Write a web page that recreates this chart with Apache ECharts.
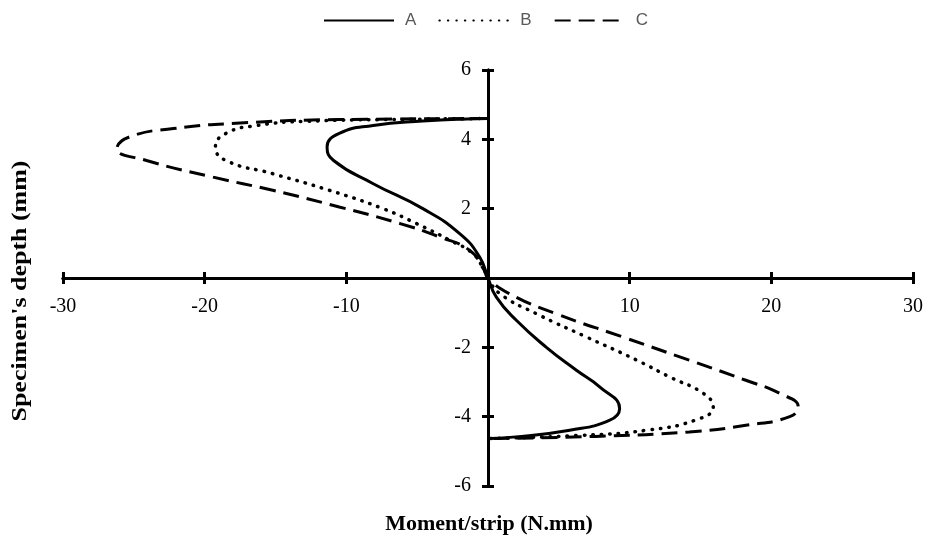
<!DOCTYPE html>
<html>
<head>
<meta charset="utf-8">
<script src="https://cdn.jsdelivr.net/npm/echarts@6/dist/echarts.min.js"></script>
<style>html,body{margin:0;padding:0;background:#fff}#c{width:928px;height:540px}</style>
</head>
<body>
<div id="c"></div>
<script>
const seriesNames = ['A', 'B', 'C'];
const xTicks = [-30, -20, -10, 0, 10, 20, 30];
const yTicks = [-6, -4, -2, 0, 2, 4, 6];
const xTitle = 'Moment/strip (N.mm)';
const yTitle = "Specimen's depth (mm)";

const seriesA = [
  [0, 4.6], [-1.5, 4.59], [-4.6, 4.53], [-8.1, 4.4], [-10.5, 4.17], [-11.36, 3.78],
  [-10.9, 3.39], [-8.1, 2.72], [-4.6, 2.0], [-2.0, 1.28], [-0.58, 0.6], [0, 0],
  [0.59, -0.55], [2.0, -1.22], [4.12, -2.0], [6.24, -2.66], [7.88, -3.14], [9.29, -3.77],
  [8.6, -4.1], [5.77, -4.39], [1.76, -4.59], [0, -4.63]
];
const seriesB = [
  [0, 4.6], [-5, 4.58], [-12.8, 4.52], [-16.3, 4.4], [-18.5, 4.17], [-19.24, 3.78],
  [-18.5, 3.39], [-15.2, 3.01], [-11.2, 2.53], [-7.4, 2.0], [-5.05, 1.57], [-2.7, 1.09],
  [-1.06, 0.7], [-0.3, 0.25], [0, 0],
  [0.83, -0.45], [3.42, -1.03], [6.94, -1.7], [10.5, -2.37], [12.8, -2.85], [15.2, -3.33],
  [15.9, -3.72], [14.7, -4.09], [11.2, -4.39], [6.5, -4.54], [0, -4.63]
];
const seriesC = [
  [0, 4.6], [-10.5, 4.57], [-17.5, 4.47], [-22.2, 4.31], [-25.3, 4.07], [-26.2, 3.73],
  [-24.1, 3.39], [-19.4, 2.91], [-15.2, 2.53], [-10.5, 2.05], [-6.2, 1.57], [-3.4, 1.18],
  [-1.3, 0.8], [-0.3, 0.25], [0, 0],
  [1.5, -0.45], [4.8, -1.03], [9.5, -1.7], [14.2, -2.37], [18.2, -2.95], [20.6, -3.33],
  [21.9, -3.72], [21.3, -4.0], [18.2, -4.25], [14.2, -4.44], [7.6, -4.57], [0, -4.63]
];

const W = 928, H = 540;
const G = {left: 63, right: 15, top: 70, bottom: 54};
const xMin = xTicks[0], xMax = xTicks[xTicks.length - 1];
const yMin = yTicks[0], yMax = yTicks[yTicks.length - 1];
const gridW = W - G.left - G.right, gridH = H - G.top - G.bottom;
// shift label-bearing axes from the grid edge to the zero line
const xOffset = -gridH * (0 - yMin) / (yMax - yMin);
const yOffset = -gridW * (0 - xMin) / (xMax - xMin);

const chart = echarts.init(document.getElementById('c'), null, {renderer: 'canvas'});
const serif = '"Liberation Serif", "Times New Roman", serif';
const fmt = v => (v === 0 ? '' : String(v));
const lineSt = {color: '#000', width: 3};

function xAx(main) {
  return {
    type: 'value', min: xMin, max: xMax, interval: 10, position: 'bottom',
    offset: main ? xOffset : 0,
    axisLine: {show: true, onZero: !main, onZeroAxisIndex: main ? undefined : 1, lineStyle: lineSt},
    axisTick: {show: true, inside: !main, length: 6, lineStyle: lineSt},
    axisLabel: {show: main, formatter: fmt, margin: 19, color: '#000', fontFamily: serif, fontSize: 20},
    splitLine: {show: false}
  };
}
function yAx(main) {
  return {
    type: 'value', min: yMin, max: yMax, interval: 2, position: 'left',
    offset: main ? yOffset : 0,
    axisLine: {show: true, onZero: !main, onZeroAxisIndex: main ? undefined : 1, lineStyle: lineSt},
    axisTick: {show: true, inside: !main, length: 6, lineStyle: lineSt},
    axisLabel: {show: main, formatter: fmt, margin: 17, color: '#000', fontFamily: serif, fontSize: 20},
    splitLine: {show: false}
  };
}

const styles = [
  {type: 'solid', width: 3, cap: 'butt'},
  {type: [0.5, 8], width: 3.5, cap: 'round'},
  {type: [16, 8], width: 3, cap: 'butt'}
];
const datas = [seriesA, seriesB, seriesC];

chart.setOption({
  animation: false,
  backgroundColor: '#fff',
  grid: Object.assign({containLabel: false}, G),
  legend: {
    top: 7, left: 318, itemWidth: 70, itemHeight: 14, itemGap: 22,
    data: seriesNames,
    itemStyle: {opacity: 0},
    textStyle: {color: '#595959', fontSize: 17, padding: [0, 0, 0, 6],
      fontFamily: '"Liberation Sans", Arial, sans-serif'}
  },
  xAxis: [xAx(true), xAx(false)],
  yAxis: [yAx(true), yAx(false)],
  graphic: [
    {type: 'text', x: 489, y: 524,
      style: {text: xTitle, font: 'bold 22px ' + serif, fill: '#000', align: 'center', verticalAlign: 'middle'}},
    {type: 'text', x: 20, y: 291, rotation: Math.PI / 2, scaleX: 1.18,
      style: {text: yTitle, font: 'bold 22px ' + serif, fill: '#000', align: 'center', verticalAlign: 'middle'}}
  ],
  series: seriesNames.map((n, i) => ({
    name: n, type: 'line', xAxisIndex: 0, yAxisIndex: 0,
    data: datas[i], symbol: 'none', smooth: 0.5,
    color: '#000',
    lineStyle: Object.assign({color: '#000'}, styles[i])
  }))
});
</script>
</body>
</html>
